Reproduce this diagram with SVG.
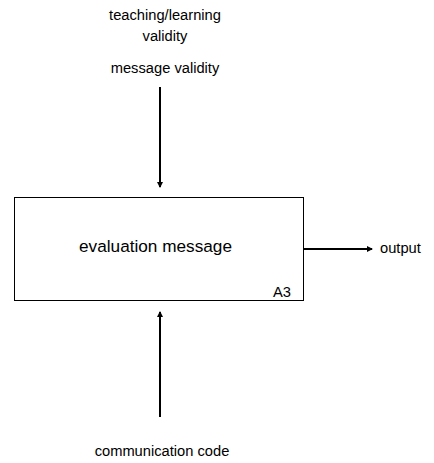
<svg xmlns="http://www.w3.org/2000/svg" width="434" height="463" viewBox="0 0 434 463">
  <style>
    text { font-family: "Liberation Sans", Arial, sans-serif; fill: #000; }
    .lbl { font-size: 14.7px; }
    .title { font-size: 17.2px; }
    .edge { stroke: #000; stroke-width: 2; fill: none; }
  </style>
  <defs>
    <marker id="arrow" viewBox="0 0 6 6" refX="5" refY="3" markerWidth="3" markerHeight="3" orient="auto" markerUnits="strokeWidth">
      <path d="M0,0 L6,3 L0,6 z" fill="#000"/>
    </marker>
  </defs>
  <rect width="434" height="463" fill="#fff"/>

  <g id="activity-A3">
    <rect x="14.5" y="197.5" width="289" height="103" fill="#fff" stroke="#000" stroke-width="1"/>
    <text class="title" x="155.5" y="252" text-anchor="middle">evaluation message</text>
    <text class="lbl" x="273" y="297">A3</text>
  </g>

  <g id="control-labels">
    <text class="lbl" x="165" y="20" text-anchor="middle">teaching/learning</text>
    <text class="lbl" x="165" y="41" text-anchor="middle">validity</text>
    <text class="lbl" x="165" y="73" text-anchor="middle">message validity</text>
  </g>

  <g id="output-label">
    <text class="lbl" x="380" y="253">output</text>
  </g>

  <g id="input-label">
    <text class="lbl" x="162" y="456" text-anchor="middle">communication code</text>
  </g>

  <g id="connectors">
    <line class="edge" x1="160" y1="87" x2="160" y2="187" marker-end="url(#arrow)"/>
    <line class="edge" x1="160" y1="417" x2="160" y2="312" marker-end="url(#arrow)"/>
    <line class="edge" x1="304" y1="249" x2="372" y2="249" marker-end="url(#arrow)"/>
  </g>
</svg>
